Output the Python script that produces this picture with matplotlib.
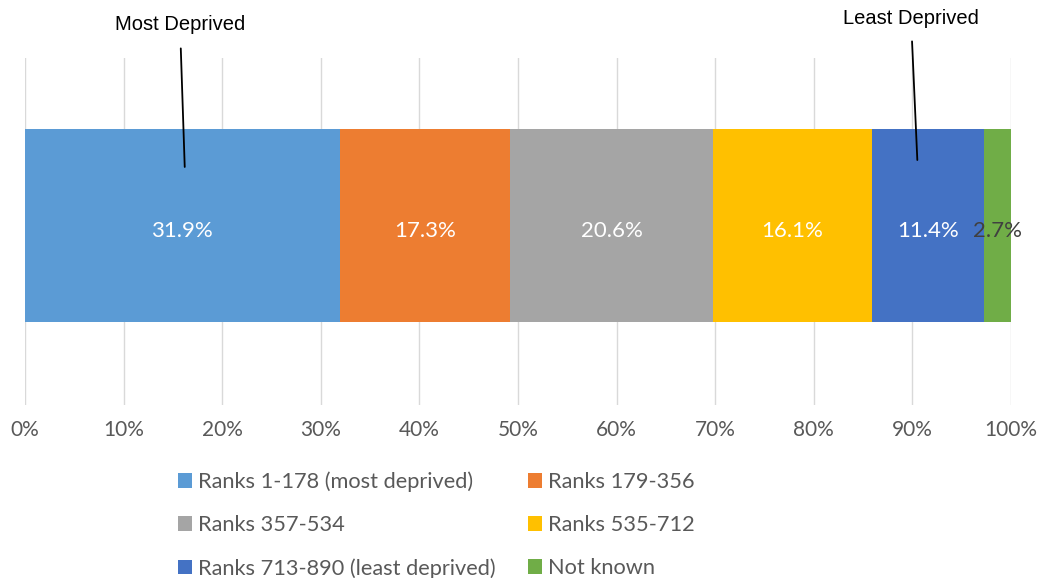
import matplotlib
matplotlib.use("Agg")
import matplotlib.pyplot as plt
from matplotlib.patches import Patch

categories = ["Ranks 1-178 (most deprived)", "Ranks 179-356", "Ranks 357-534",
              "Ranks 535-712", "Ranks 713-890 (least deprived)", "Not known"]
values = [31.9, 17.3, 20.6, 16.1, 11.4, 2.7]
colors = ["#5B9BD5", "#ED7D31", "#A5A5A5", "#FFC000", "#4472C4", "#70AD47"]
label_colors = ["white", "white", "white", "white", "white", "#404040"]
tick_vals = list(range(0, 101, 10))
tick_labels = [f"{v}%" for v in tick_vals]

font_main = "Lato"
fig = plt.figure(figsize=(10.41, 5.78), dpi=100)
ax = fig.add_axes([25/1041, 1-405/578, 986/1041, 347/578])

left = 0
for v, c, lc in zip(values, colors, label_colors):
    ax.barh(0, v, left=left, height=0.556, color=c, zorder=2)
    ax.text(left + v/2, -0.015, f"{v}%", ha="center", va="center", color=lc,
            fontsize=16, family=font_main, zorder=3)
    left += v

ax.set_xlim(0, 100)
ax.set_ylim(-0.516, 0.484)
ax.set_xticks(tick_vals)
ax.set_xticklabels(tick_labels, family=font_main, fontsize=15, color="#595959")
ax.tick_params(axis="x", length=0, pad=11)
ax.set_yticks([])
ax.grid(axis="x", color="#D9D9D9", linewidth=1, zorder=0)
for s in ax.spines.values():
    s.set_visible(False)

# annotations
ax.annotate("Most Deprived", xy=(16.2, 0.17), xycoords="data",
            xytext=(180/1041, 1-25/578), textcoords="figure fraction",
            ha="center", va="center", fontsize=14.5, family="Liberation Sans",
            arrowprops=dict(arrowstyle="-", color="black", lw=1.3,
                            shrinkA=8, shrinkB=0))
ax.annotate("Least Deprived", xy=(90.5, 0.19), xycoords="data",
            xytext=(911/1041, 1-18/578), textcoords="figure fraction",
            ha="center", va="center", fontsize=14.5, family="Liberation Sans",
            arrowprops=dict(arrowstyle="-", color="black", lw=1.3,
                            shrinkA=8, shrinkB=0))

handles = [Patch(facecolor=c, edgecolor="none") for c in colors]
order = [0, 2, 4, 1, 3, 5]
leg = fig.legend([handles[i] for i in order], [categories[i] for i in order],
                 ncol=2, loc="upper left", bbox_to_anchor=(158/1041, 1-452/578),
                 frameon=False, handlelength=0.65, handleheight=0.65,
                 handletextpad=0.3, columnspacing=1.45, labelspacing=1.05,
                 prop={"family": font_main, "size": 15.7})
for t in leg.get_texts():
    t.set_color("#595959")

fig.savefig("out.png", dpi=100)
